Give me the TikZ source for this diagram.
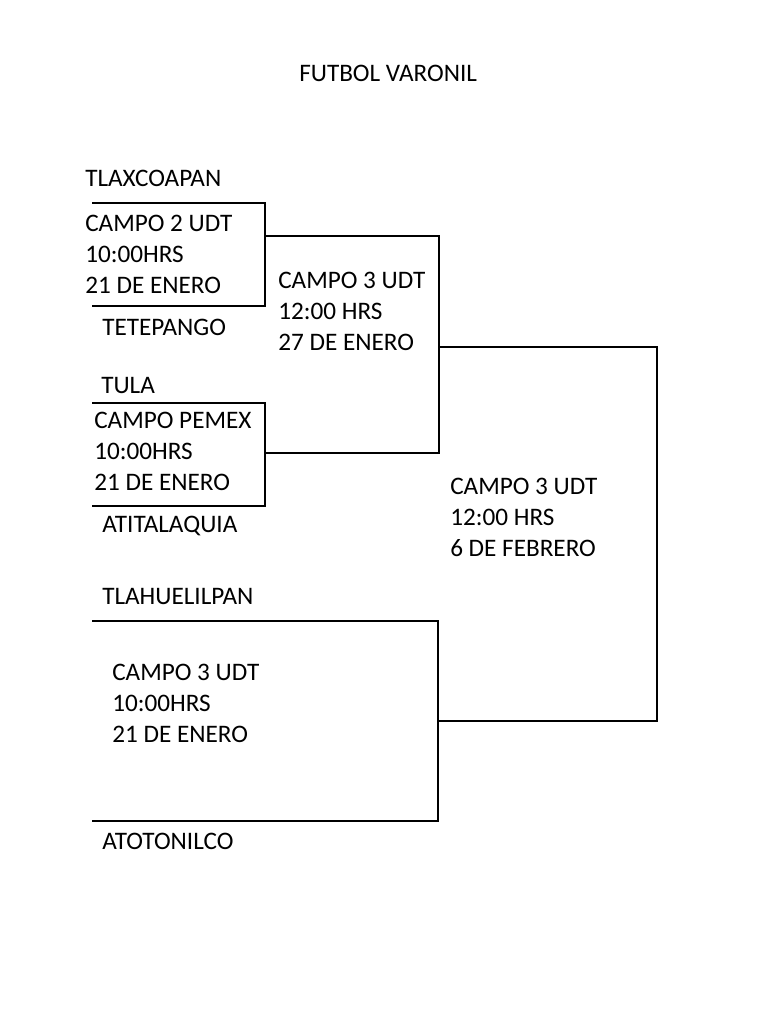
\documentclass[tikz,border=0pt]{standalone}
\usepackage{fontspec}
\setmainfont{Carlito}
\usetikzlibrary{calc}
\tikzset{
  equipo/.style={anchor=base west, inner sep=0pt, font=\fontsize{18.9}{22.9}\selectfont},
  partido/.style={anchor=base west, inner sep=0pt, align=left, font=\fontsize{18.9}{22.9}\selectfont},
  llave/.style={line width=1.5pt, line join=miter}
}
\begin{document}
\begin{tikzpicture}[x=0.75pt, y=-0.75pt]
			%%%%% START %%%%%
			\useasboundingbox (0, 0) rectangle (768, 1024);
			
			\node[equipo] (titulo) at (299, 81) {FUTBOL VARONIL};
			
			% primera ronda
			\coordinate (t1) at (92, 203);
			\coordinate (t2) at (92, 306);
			\coordinate (k1) at (265, 203);
			\coordinate (k2) at (265, 306);
			\coordinate (s1) at (265, 236);
			\draw[llave] (t1) -- (k1) -- (k2) -- (t2);
			
			\coordinate (t3) at (92, 403);
			\coordinate (t4) at (92, 506);
			\coordinate (k3) at (265, 403);
			\coordinate (k4) at (265, 506);
			\coordinate (s2) at (265, 453);
			\draw[llave] (t3) -- (k3) -- (k4) -- (t4);
			
			\coordinate (t5) at (92, 621);
			\coordinate (t6) at (92, 821);
			\coordinate (k5) at (438, 621);
			\coordinate (k6) at (438, 821);
			\draw[llave] (t5) -- (k5) -- (k6) -- (t6);
			
			% semifinal
			\coordinate (m1) at (439, 236);
			\coordinate (m2) at (439, 453);
			\draw[llave] (s1) -- (m1) -- (m2) -- (s2);
			
			% final
			\coordinate (s3) at (439, 347);
			\coordinate (s4) at (438, 721);
			\coordinate (f1) at (657, 347);
			\coordinate (f2) at (657, 721);
			\draw[llave] (s3) -- (f1) -- (f2) -- (s4);
			
			% equipos
			\node[equipo] (tlaxcoapan) at (85, 186) {TLAXCOAPAN};
			\node[equipo] (tetepango) at (102, 335) {TETEPANGO};
			\node[equipo] (tula) at (101, 393) {TULA};
			\node[equipo] (atitalaquia) at (102, 532) {ATITALAQUIA};
			\node[equipo] (tlahuelilpan) at (102, 604) {TLAHUELILPAN};
			\node[equipo] (atotonilco) at (102, 849) {ATOTONILCO};
			
			% partidos (base = ultima linea)
			\node[partido] (juego1) at (85, 293) {CAMPO 2 UDT\\10:00HRS\\21 DE ENERO};
			\node[partido] (juego2) at (94, 490) {CAMPO PEMEX\\10:00HRS\\21 DE ENERO};
			\node[partido] (juego3) at (112, 742) {CAMPO 3 UDT\\10:00HRS\\21 DE ENERO};
			\node[partido] (semi) at (278, 350) {CAMPO 3 UDT\\12:00 HRS\\27 DE ENERO};
			\node[partido] (final) at (450, 556) {CAMPO 3 UDT\\12:00 HRS\\6 DE FEBRERO};
			
			%%%%% END %%%%%
\end{tikzpicture}
\end{document}
